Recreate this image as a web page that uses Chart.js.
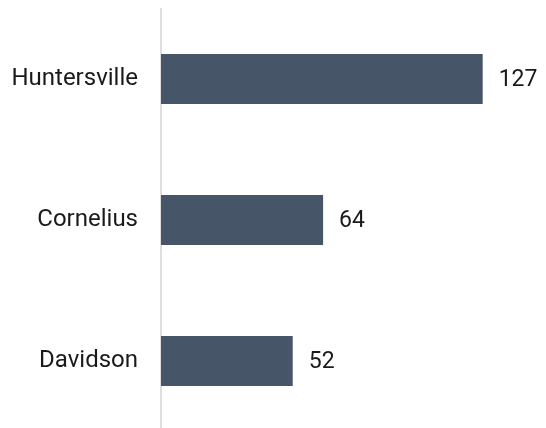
<!DOCTYPE html>
<html>
<head>
<meta charset="utf-8">
<script src="https://cdn.jsdelivr.net/npm/chart.js@4"></script>
<style>
  html, body { margin: 0; padding: 0; background: #fff; overflow: hidden; height: 428px; }
  canvas { display: block; }
</style>
</head>
<body>
<canvas id="c" width="546" height="432"></canvas>
<script>
const towns = ['Huntersville', 'Cornelius', 'Davidson'];
const counts = [127, 64, 52];

const FONT = 'Roboto, "Liberation Sans", sans-serif';

// Writes each bar's value just past its end
const valueLabels = {
  id: 'valueLabels',
  afterDatasetsDraw(chart) {
    const { ctx } = chart;
    const meta = chart.getDatasetMeta(0);
    ctx.save();
    ctx.font = '23px ' + FONT;
    ctx.fillStyle = '#1a1a1a';
    ctx.textAlign = 'left';
    ctx.textBaseline = 'middle';
    meta.data.forEach((bar, i) => {
      ctx.fillText(String(counts[i]), bar.x + 16, bar.y + 1);
    });
    ctx.restore();
  }
};

new Chart(document.getElementById('c'), {
  type: 'bar',
  data: {
    labels: towns,
    datasets: [{
      data: counts,
      backgroundColor: '#475569',
      borderWidth: 0,
      barPercentage: 0.355,
      categoryPercentage: 1
    }]
  },
  options: {
    indexAxis: 'y',
    responsive: false,
    animation: false,
    layout: { padding: { top: 8.5, bottom: 0.5, right: 0, left: 0 } },
    plugins: { legend: { display: false }, tooltip: { enabled: false } },
    scales: {
      x: {
        min: 0,
        max: 152,
        display: false
      },
      y: {
        grid: { display: false, drawTicks: false },
        border: { display: true, color: '#dedede', width: 2 },
        ticks: {
          color: '#1a1a1a',
          font: { family: FONT, size: 24 },
          padding: 23
        },
        afterFit(scale) {
          // fixed gutter for the town names; bands run edge to edge
          scale.width = 161;
          scale.paddingTop = 0;
          scale.paddingBottom = 0;
        }
      }
    }
  },
  plugins: [valueLabels]
});
</script>
</body>
</html>
